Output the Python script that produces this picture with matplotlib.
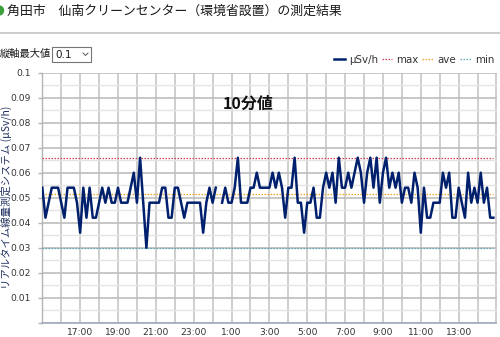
import numpy as np
import matplotlib.pyplot as plt
from matplotlib.lines import Line2D
from matplotlib.patches import Rectangle, Ellipse
from matplotlib.ticker import MultipleLocator, FixedLocator, FuncFormatter

JP = ['Noto Sans CJK JP', 'DejaVu Sans']

# 10-minute readings (μSv/h) from 15:00 to 14:50; nan = no data
usvh = [
    0.054, 0.042, 0.048, 0.054, 0.054, 0.054, 0.048, 0.042, 0.054, 0.054,
    0.054, 0.048, 0.036, 0.054, 0.042, 0.054, 0.042, 0.042, 0.048, 0.054,
    0.048, 0.054, 0.048, 0.048, 0.054, 0.048, 0.048, 0.048, 0.054, 0.060,
    0.048, 0.066, 0.048, 0.030, 0.048, 0.048, 0.048, 0.048, 0.054, 0.054,
    0.042, 0.042, 0.054, 0.054, 0.048, 0.042, 0.048, 0.048, 0.048, 0.048,
    0.048, 0.036, 0.048, 0.054, 0.048, 0.054, np.nan, 0.048, 0.054, 0.048,
    0.048, 0.054, 0.066, 0.048, 0.048, 0.048, 0.054, 0.054, 0.060, 0.054,
    0.054, 0.054, 0.054, 0.060, 0.054, 0.060, 0.054, 0.042, 0.054, 0.054,
    0.066, 0.048, 0.048, 0.036, 0.048, 0.048, 0.054, 0.042, 0.042, 0.054,
    0.060, 0.054, 0.060, 0.048, 0.066, 0.054, 0.054, 0.060, 0.054, 0.060,
    0.066, 0.060, 0.048, 0.060, 0.066, 0.054, 0.066, 0.048, 0.060, 0.066,
    0.054, 0.060, 0.054, 0.060, 0.048, 0.054, 0.054, 0.048, 0.060, 0.054,
    0.036, 0.054, 0.042, 0.042, 0.048, 0.048, 0.048, 0.060, 0.054, 0.060,
    0.042, 0.042, 0.054, 0.048, 0.042, 0.060, 0.048, 0.054, 0.048, 0.060,
    0.048, 0.054, 0.042, 0.042,
]
hour_labels = ['17:00', '19:00', '21:00', '23:00', '1:00', '3:00',
               '5:00', '7:00', '9:00', '11:00', '13:00']
start_hour = 15
y_max = 0.1

values = np.array(usvh)
hours = np.arange(len(values)) / 6.0   # hours since start_hour
v_max = np.nanmax(values)
v_ave = np.nanmean(values)
v_min = np.nanmin(values)

W, H = 500, 337
fig = plt.figure(figsize=(W / 100, H / 100), dpi=100)

def fx(px):
    return px / W

def fy(py):
    return 1 - py / H

# page header
fig.patches.append(Ellipse((fx(-1), fy(10.5)), 9 / W, 9 / H,
                           transform=fig.transFigure, color='#3aa03a'))
fig.text(fx(7), fy(11.5), '角田市　仙南クリーンセンター（環境省設置）の測定結果',
         family=JP, fontsize=9.3, color='#1a1a1a', va='center', ha='left')
fig.add_artist(Line2D([0, 1], [fy(32.5), fy(32.5)], transform=fig.transFigure,
                      color='#c4c4c4', lw=1.2))

# axis-max selector
fig.text(fx(0), fy(53.5), '縦軸最大値', family=JP, fontsize=7.4,
         color='#1a1a1a', va='center', ha='left')
fig.patches.append(Rectangle((fx(51.7), fy(61.7)), 39.3 / W, 15 / H,
                             transform=fig.transFigure, facecolor='white',
                             edgecolor='#767676', lw=0.8))
fig.text(fx(55.5), fy(54.5), str(y_max), fontsize=7.5, color='#1a1a1a',
         va='center', ha='left')
fig.add_artist(Line2D([fx(83), fx(85.5), fx(88)], [fy(53), fy(55.5), fy(53)],
                      transform=fig.transFigure, color='#555555', lw=0.7))

# plot area: 42..496 px across, 72.7..322.7 px down
ax = fig.add_axes([fx(42.3), fy(322.7), 454.2 / W, 250 / H])

ax.plot(hours, values, color='#00206e', lw=1.8, label='μSv/h', zorder=4)
ax.hlines(v_max, hours[0], hours[-1], color='#d8405a', lw=0.9,
          linestyles=(0, (1.2, 1.2)), label='max', zorder=3)
ax.hlines(v_ave, hours[0], hours[-1], color='#f0a020', lw=0.9,
          linestyles=(0, (1.2, 1.2)), label='ave', zorder=3)
ax.hlines(v_min, hours[0], hours[-1], color='#5aa8b8', lw=0.9,
          linestyles=(0, (1.2, 1.2)), label='min', zorder=3)

ax.set_xlim(0, 24)
ax.set_ylim(0, y_max)

tick_hours = [(int(lbl.split(':')[0]) - start_hour) % 24 for lbl in hour_labels]
ax.xaxis.set_major_locator(FixedLocator(tick_hours))
ax.set_xticklabels(hour_labels)
ax.xaxis.set_minor_locator(MultipleLocator(1))
ax.yaxis.set_major_locator(MultipleLocator(0.01))
ax.yaxis.set_minor_locator(MultipleLocator(0.005))
ax.yaxis.set_major_formatter(FuncFormatter(
    lambda v, pos: '' if round(v, 3) == 0 else f'{round(v, 3):g}'))

ax.set_axisbelow(True)
ax.grid(axis='x', which='both', color='#c6c6c6', lw=1.2)
ax.grid(axis='y', which='major', color='#bdbdbd', lw=1.2)
ax.grid(axis='y', which='minor', color='#e4e4e4', lw=1.0)

ax.tick_params(axis='x', which='both', length=0, pad=3.5,
               labelsize=6.6, labelcolor='#333333')
ax.tick_params(axis='y', which='major', length=3.2, width=1, color='#b4b4b4',
               pad=5, labelsize=6.6, labelcolor='#333333')
ax.tick_params(axis='y', which='minor', length=0)

for side in ('top', 'right'):
    ax.spines[side].set_visible(False)
ax.spines['left'].set_color('#b4b4b4')
ax.spines['left'].set_linewidth(1.0)
ax.spines['bottom'].set_color('#a6aebe')
ax.spines['bottom'].set_linewidth(1.3)

fig.text(fx(6), fy(197), 'リアルタイム線量測定システム (μSv/h)', family=JP,
         fontsize=7.5, color='#1f2f5f', rotation=90, va='center', ha='center')
fig.text(fx(248), fy(104), '10分値', family=JP, fontsize=11.5,
         fontweight='bold', color='#111111', va='center', ha='center')

handles, labels = ax.get_legend_handles_labels()
handles = [Line2D([], [], color='#00206e', lw=1.8)] + [
    Line2D([], [], color=h.get_color()[0], lw=0.9, linestyle=(0, (1.2, 1.2)))
    for h in handles[1:]]
fig.legend(handles, labels, loc='center right', bbox_to_anchor=(fx(494), fy(60)),
           ncol=4, frameon=False, fontsize=7.4, handlelength=1.05,
           handletextpad=0.4, columnspacing=0.35, borderaxespad=0, borderpad=0,
           labelcolor='#333333')

fig.savefig('out.png', dpi=100)
